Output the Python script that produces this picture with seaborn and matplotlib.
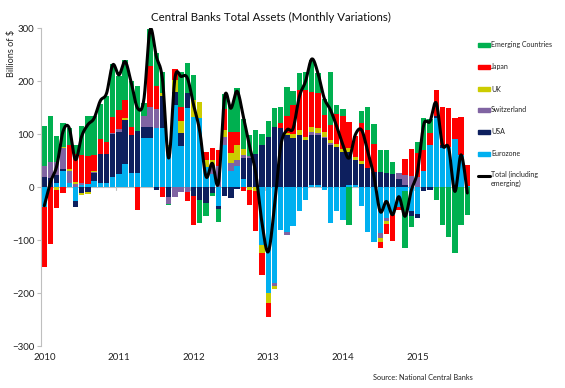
import numpy as np
import matplotlib
matplotlib.use("Agg")
import matplotlib.pyplot as plt
from matplotlib import font_manager
import seaborn as sns
from matplotlib.patches import Rectangle
from matplotlib.lines import Line2D

# ---------------- data (billions of $, monthly, Jan 2010 - Sep 2015) ----------------
year_labels = ["2010", "2011", "2012", "2013", "2014", "2015"]

eurozone = [-37, 0, 8, 30, 8, -27, 5, 6, 12, 8, 8, 20,
            25, 44, 26, 26, 92, 92, 112, 112, 75, 155, 77, 149,
            133, 130, 38, 25, -36, 80, 30, 40, 15, 0, 0, -109,
            -200, -181, -80, -84, -74, -45, -25, 4, 4, -5, -68, -45,
            -62, 4, 4, -36, -84, -103, -87, -58, -52, -38, -8, -45,
            -50, 30, 80, 130, 74, 75, 90, 60, 2]
usa = [20, 18, 15, 5, 0, -11, -11, -10, 15, 55, 55, 80,
       80, 82, 72, 80, 22, 22, -5, 60, -18, 25, 25, 28,
       -16, -24, -30, -11, -6, -17, -21, -3, 40, 55, 63, 80,
       95, 113, 112, 98, 92, 99, 89, 95, 95, 92, 80, 76,
       66, 63, 47, 44, 36, 28, 28, 26, 25, 15, 4, -10,
       -8, -8, -5, 4, 6, 0, 0, 0, 0]
switzerland = [19, 30, 25, 38, 22, 6, 3, 0, 2, 0, 0, 2,
               5, 0, 0, 0, 20, 38, 35, 0, -14, -18, -10, -10,
               0, 0, 0, 16, 40, 15, 15, 12, 5, 3, 0, 0,
               0, -5, 0, -6, 0, 0, 0, 5, 3, 3, 3, 0,
               0, 0, 0, 0, 0, 0, -9, -6, 0, 12, 19, 22,
               20, 0, 0, 0, 0, 0, 0, 0, 0]
uk = [0, 0, -5, 3, 4, 4, -3, -3, 2, 0, 0, 0,
      0, 4, 0, 0, 0, 0, 0, 6, 5, 22, 22, 0,
      31, 30, 13, 10, 0, 12, 20, 28, 12, -5, -8, -16,
      -19, -6, 0, 5, 9, 9, 6, 10, 9, 9, 6, 6,
      6, 6, 6, 6, 0, 0, -8, -6, 0, 0, 0, 0,
      0, 0, 0, 0, 0, 0, 0, 0, 0]
japan = [-114, -107, -35, -11, 46, 52, 52, 52, 30, 28, 22, 30,
         35, 35, 16, -43, 0, 76, 44, -18, 0, 22, 27, -16,
         -55, 0, 16, 22, 30, 40, 40, 25, -8, -28, -75, -41,
         -26, 0, 10, 32, 54, 76, 88, 66, 66, 32, 28, 57,
         62, 50, 39, 72, 72, 54, -11, -19, -50, -5, 31, 50,
         45, 40, 22, 50, 72, 74, 40, 73, 40]
emerging = [77, 87, 49, 46, 31, 18, 56, 77, 74, 66, 88, 100,
            65, 75, 86, 85, 25, 70, 62, 40, -2, 0, 67, 58,
            48, -43, -25, -6, -24, 29, 50, 82, 57, 41, 45, 20,
            30, 36, 30, 55, 26, 31, 35, 60, 38, 30, 100, 16,
            14, -71, 0, 22, 43, 38, 42, 44, 23, 0, -107, -20,
            20, 61, 27, -24, -71, -95, -125, -71, -52]
total = [-35, 10, 40, 105, 112, 52, 96, 118, 130, 163, 177, 231,
         212, 237, 196, 149, 165, 297, 247, 203, 55, 206, 209, 206,
         155, 105, 20, 45, 8, 171, 149, 181, 133, 77, 26, -68,
         -122, -37, 77, 108, 111, 171, 200, 242, 215, 168, 146, 115,
         80, 55, 99, 108, 67, 20, -46, -27, -52, -18, -55, -6,
         30, 118, 124, 159, 80, 74, -8, 61, -11]

series_names = ["Eurozone", "USA", "Switzerland", "UK", "Japan", "Emerging Countries"]
series_vals = [eurozone, usa, switzerland, uk, japan, emerging]
series_colors = ["#00B0F0", "#0D1F5E", "#8064A2", "#CCCC00", "#FF0000", "#00B050"]

# ---------------- figure ----------------
sns.set_theme(style="white")
installed = {f.name for f in font_manager.fontManager.ttflist}
fam = [f for f in ["Liberation Sans Narrow", "Lato"] if f in installed] + ["DejaVu Sans"]
plt.rcParams["font.family"] = fam
narrow = fam[0] == "Liberation Sans Narrow"
k = 1.12 if narrow else 1.0  # narrow font can be a little larger for same width

W, H = 565, 388
fig = plt.figure(figsize=(W / 100, H / 100), dpi=100)
fig.patch.set_facecolor("white")
ax_left, ax_right, ax_top, ax_bot = 41.2, 470.4, 28.3, 346.0
ax = fig.add_axes([ax_left / W, (H - ax_bot) / H, (ax_right - ax_left) / W, (ax_bot - ax_top) / H])
ax.set_facecolor("white")

n = len(total)
x = np.arange(n)
pos_base = np.zeros(n)
neg_base = np.zeros(n)
for name, vals, col in zip(series_names, series_vals, series_colors):
    v = np.asarray(vals, dtype=float)
    bottom = np.where(v >= 0, pos_base, neg_base)
    ax.bar(x, v, bottom=bottom, width=0.86, color=col, linewidth=0, zorder=2)
    pos_base += np.clip(v, 0, None)
    neg_base += np.clip(v, None, 0)


def smooth(xv, yv, steps=24):
    P = np.column_stack([xv, yv]).astype(float)
    segs = []
    for i in range(len(P) - 1):
        p0 = P[i - 1] if i > 0 else P[i]
        p1, p2 = P[i], P[i + 1]
        p3 = P[i + 2] if i + 2 < len(P) else P[i + 1]
        c1 = p1 + (p2 - p0) / 6.0
        c2 = p2 - (p3 - p1) / 6.0
        t = np.linspace(0, 1, steps, endpoint=False)[:, None]
        segs.append((1 - t) ** 3 * p1 + 3 * (1 - t) ** 2 * t * c1 + 3 * (1 - t) * t ** 2 * c2 + t ** 3 * p2)
    segs.append(P[-1:])
    return np.vstack(segs)


curve = smooth(x, total)
sns.lineplot(x=curve[:, 0], y=curve[:, 1], sort=False, color="black", linewidth=2.2, ax=ax, zorder=4,
             estimator=None)

ax.axhline(0, color="#BFBFBF", linewidth=0.8, zorder=1)
for b in np.arange(11.5, n, 12):
    ax.plot([b, b], [0, -6], color="#BFBFBF", linewidth=0.8, zorder=1)

ax.set_xlim(-0.5, n - 0.5)
ax.set_ylim(-300, 300)
ax.set_yticks(range(-300, 301, 100))
ax.set_xticks(np.arange(0, n, 12))
ax.set_xticklabels(year_labels)
for s in ["top", "right", "bottom"]:
    ax.spines[s].set_visible(False)
ax.spines["left"].set_color("#BFBFBF")
ax.spines["left"].set_linewidth(0.8)
ax.tick_params(axis="y", direction="out", length=3, width=0.8, color="#BFBFBF",
               labelsize=7, pad=2, labelcolor="#222222", left=True)
ax.tick_params(axis="x", length=0, labelsize=7, pad=5, labelcolor="#222222")
ax.grid(False)

# title & labels
fig.text(271 / W, 1 - 17 / H, "Central Banks Total Assets (Monthly Variations)",
         ha="center", va="center", fontsize=8.3 * k, color="#111111")
fig.text(12 / W, 1 - 30 / H, "Billions of $", rotation=90, ha="center", va="top",
         fontsize=6.6 * k, color="#222222")
fig.text(473 / W, 1 - 378 / H, "Source: National Central Banks", ha="right", va="center",
         fontsize=5.3 * k, color="#222222")

# legend (manual, to match original placement)
leg_fs = 5.0 * k
leg_rows = [45, 67, 89, 110, 132, 154]
for name, col, yy in zip(reversed(series_names), reversed(series_colors), leg_rows):
    fig.patches.append(Rectangle((478 / W, 1 - (yy + 2) / H), 12 / W, 4 / H,
                                 transform=fig.transFigure, color=col, figure=fig))
    fig.text(491 / W, 1 - yy / H, name, ha="left", va="center", fontsize=leg_fs, color="#222222")
fig.lines.append(Line2D([478 / W, 490 / W], [1 - 176 / H, 1 - 176 / H], transform=fig.transFigure,
                        color="black", linewidth=2.2, figure=fig))
fig.text(491 / W, 1 - 171 / H, "Total (including\nemerging)", ha="left", va="top",
         fontsize=leg_fs, color="#222222", linespacing=1.25)

fig.savefig("out.png", dpi=100, facecolor="white")
